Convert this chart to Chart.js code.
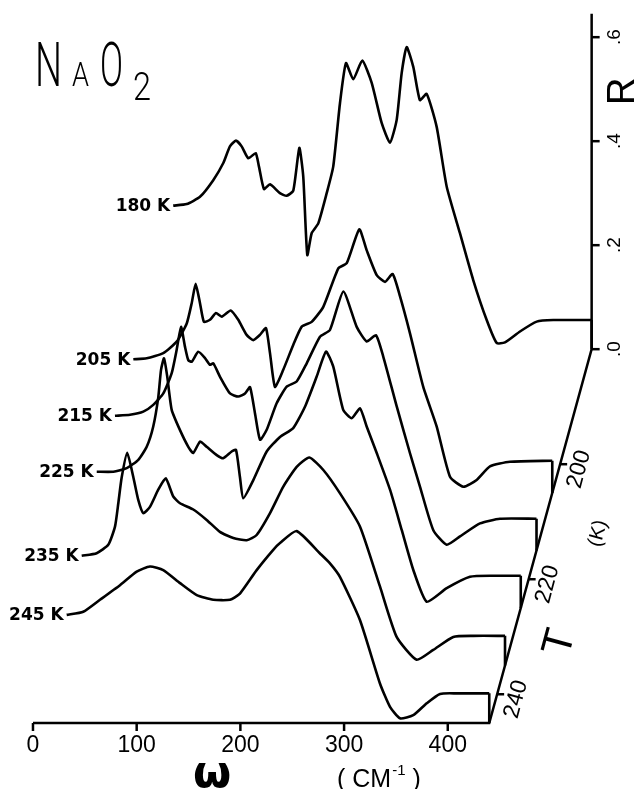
<!DOCTYPE html>
<html>
<head>
<meta charset="utf-8">
<script src="https://cdn.jsdelivr.net/npm/chart.js@4.4.1/dist/chart.umd.min.js"></script>
<style>
  html, body { margin: 0; padding: 0; background: #fff; }
  canvas { display: block; }
</style>
</head>
<body>
<canvas id="naO2Chart" width="639" height="789"></canvas>
<script>
// spectra, omega in cm-1, reflectance R
const omega180 = [36.5,49.5,62.3,75.1,84.8,91.2,97.0,102.5,108.9,116.0,119.2,124.0,129.8,139.4,145.9,152.3,158.1,161.9,165.8,170.0,176.4,184.5,190.8,197.3,203.1,210.1,218.8,227.9,237.5,245.5,252.0,256.8,261.6,268.0,274.4,280.9,290.5,300.2,313.0,325.8,338.8,348.4,356.4,370.9,387.0,403.0,440];
const r180 = [0.276,0.279,0.293,0.325,0.358,0.390,0.401,0.390,0.367,0.377,0.351,0.308,0.317,0.300,0.295,0.305,0.387,0.332,0.181,0.223,0.242,0.300,0.351,0.473,0.550,0.519,0.555,0.512,0.435,0.397,0.441,0.531,0.581,0.543,0.479,0.491,0.428,0.313,0.223,0.133,0.056,0.012,0.013,0.034,0.053,0.056,0.056];

const omega205 = [36.0,48.9,64.9,77.8,87.5,92.3,96.1,100.3,104.1,109.9,115.7,121.2,129.9,137.2,145.3,151.7,158.1,163.9,167.8,172.6,180.6,190.3,198.4,208.0,219.2,233.7,241.8,253.9,261.0,270.7,278.7,286.1,293.2,302.8,315.6,328.5,341.4,354.2,367.1,379.9,399.2,440];
const r205 = [0.257,0.259,0.269,0.291,0.326,0.365,0.402,0.365,0.329,0.333,0.346,0.339,0.351,0.333,0.304,0.294,0.304,0.317,0.269,0.204,0.237,0.285,0.320,0.329,0.358,0.432,0.442,0.507,0.467,0.419,0.406,0.421,0.378,0.307,0.204,0.128,0.031,0.012,0.025,0.051,0.060,0.062];

const omega215 = [33.5,48.0,60.8,70.4,80.1,88.2,93.0,97.2,101.0,104.2,107.5,113.8,120.3,125.1,128.3,134.8,144.4,152.4,158.9,163.7,168.5,173.4,179.8,189.4,199.1,208.7,218.4,231.2,240.8,253.7,266.6,276.2,285.2,292.2,305.2,318.0,327.6,340.5,353.4,366.2,385.5,404.8,440];
const r215 = [0.259,0.261,0.267,0.280,0.302,0.341,0.386,0.430,0.392,0.366,0.363,0.382,0.370,0.357,0.360,0.334,0.302,0.296,0.302,0.314,0.264,0.213,0.232,0.283,0.315,0.325,0.360,0.411,0.424,0.498,0.430,0.402,0.414,0.373,0.277,0.187,0.123,0.039,0.011,0.027,0.052,0.061,0.061];

const omega225 = [31.1,47.1,60.0,71.2,79.3,85.6,90.5,93.1,96.0,99.1,103.4,111.4,119.4,124.2,130.7,137.1,146.8,153.1,161.2,165.4,169.2,172.4,182.1,195.0,207.8,220.6,231.9,243.2,252.2,259.2,268.8,277.0,285.0,291.4,301.1,314.0,325.2,336.4,349.3,368.6,391.0,413.5,440];
const r225 = [0.262,0.262,0.269,0.285,0.310,0.349,0.406,0.458,0.480,0.445,0.381,0.342,0.310,0.298,0.320,0.310,0.294,0.288,0.301,0.304,0.252,0.211,0.246,0.301,0.329,0.346,0.387,0.445,0.493,0.464,0.381,0.365,0.384,0.349,0.298,0.227,0.150,0.073,0.012,0.038,0.060,0.062,0.062];

const omega235 = [31.8,46.2,57.4,63.9,67.1,70.3,75.7,81.5,86.4,91.2,97.6,105.6,112.8,120.1,126.6,139.4,152.3,165.1,178.0,190.9,200.5,213.4,226.2,239.1,251.3,264.8,280.9,300.2,319.4,335.5,354.8,370.8,390.1,409.4,440];
const r235 = [0.211,0.216,0.232,0.267,0.312,0.361,0.409,0.363,0.318,0.293,0.305,0.338,0.360,0.325,0.312,0.300,0.280,0.257,0.245,0.241,0.251,0.293,0.344,0.382,0.400,0.376,0.331,0.267,0.152,0.055,0.011,0.030,0.055,0.057,0.057];

const omega245 = [32.5,48.5,64.6,83.9,100.0,112.8,125.6,141.8,157.9,173.9,190.0,199.6,215.7,231.7,238.2,254.3,276.8,286.4,296.0,315.3,334.6,344.3,353.9,366.7,379.7,392.5,408.6,440];
const r245 = [0.208,0.214,0.237,0.265,0.291,0.301,0.294,0.269,0.246,0.237,0.237,0.249,0.294,0.333,0.346,0.369,0.326,0.307,0.281,0.198,0.076,0.031,0.009,0.015,0.038,0.056,0.057,0.057];

const temps = [180, 205, 215, 225, 235, 245];
const omegas = [omega180, omega205, omega215, omega225, omega235, omega245];
const refl = [r180, r205, r215, r225, r235, r245];

const omegaTicks = [0, 100, 200, 300, 400];
const rTicks = [0, 0.2, 0.4, 0.6];
const rTickLabels = [".0", ".2", ".4", ".6"];
const tTicks = [200, 220, 240];

// waterfall geometry
const OMEGA_END = 440;
const T_BACK = 180;
const T_FRONT = 245;
const SHIFT_X = 1.519;   // cm-1 per K
const SHIFT_Y = 0.01106; // R per K
const R_TOP = 0.645;

const proj = (w, r, T) => ({
  x: w + SHIFT_X * (T_FRONT - T),
  y: r + SHIFT_Y * (T_FRONT - T),
});

const datasets = [];
temps.forEach((T, k) => {
  const w = omegas[k], r = refl[k];
  datasets.push({
    label: T + " K",
    data: w.map((v, i) => proj(v, r[i], T)),
    borderColor: "#000",
    borderWidth: 2.6,
    pointRadius: 0,
    showLine: true,
    tension: 0.18,
  });
  // drop to the baseline at the end of the range
  datasets.push({
    label: "",
    data: [proj(OMEGA_END, r[r.length - 1], T), proj(OMEGA_END, 0, T)],
    borderColor: "#000",
    borderWidth: 2.6,
    pointRadius: 0,
    showLine: true,
    tension: 0,
  });
});

function rotText(ctx, text, x, y, angle, font) {
  ctx.save();
  ctx.translate(x, y);
  ctx.rotate(angle);
  ctx.font = font;
  ctx.textAlign = "center";
  ctx.textBaseline = "middle";
  ctx.fillText(text, 0, 0);
  ctx.restore();
}

const axesPlugin = {
  id: "waterfallAxes",
  afterDatasetsDraw: (chart) => {
    const ctx = chart.ctx;
    const xs = chart.scales.x, ys = chart.scales.y;
    const px = (w, r, T) => {
      const p = proj(w, r, T);
      return [xs.getPixelForValue(p.x), ys.getPixelForValue(p.y)];
    };
    ctx.save();
    ctx.strokeStyle = "#000";
    ctx.fillStyle = "#000";
    ctx.lineWidth = 2.5;
    ctx.lineCap = "butt";

    // omega axis (front), T axis, R axis (back)
    let a = px(0, 0, T_FRONT), b = px(OMEGA_END, 0, T_FRONT), c = px(OMEGA_END, 0, T_BACK), d = px(OMEGA_END, R_TOP, T_BACK);
    ctx.beginPath();
    ctx.moveTo(a[0], a[1]);
    ctx.lineTo(b[0], b[1]);
    ctx.lineTo(c[0], c[1]);
    ctx.lineTo(d[0], d[1]);
    ctx.stroke();

    ctx.font = "23px 'Liberation Sans', Arial, sans-serif";
    ctx.textAlign = "center";
    ctx.textBaseline = "middle";
    omegaTicks.forEach((t) => {
      const p = px(t, 0, T_FRONT);
      ctx.beginPath();
      ctx.moveTo(p[0], p[1]);
      ctx.lineTo(p[0], p[1] + 8);
      ctx.stroke();
      ctx.fillText(String(t), p[0], p[1] + 23);
    });

    const tilt = -75 * Math.PI / 180;
    tTicks.forEach((t) => {
      const p = px(OMEGA_END, 0, t);
      ctx.beginPath();
      ctx.moveTo(p[0], p[1]);
      ctx.lineTo(p[0] + 7, p[1]);
      ctx.stroke();
      rotText(ctx, String(t), p[0] + 19, p[1] + 5, tilt, "23px 'Liberation Sans', Arial, sans-serif");
    });
    let q = px(OMEGA_END, 0, 211.5);
    rotText(ctx, "(K)", q[0] + 56, q[1] + 3, tilt, "20px 'Liberation Sans', Arial, sans-serif");
    q = px(OMEGA_END, 0, 231);
    rotText(ctx, "T", q[0] + 49, q[1], tilt, "42px 'Liberation Sans', Arial, sans-serif");

    rTicks.forEach((t, i) => {
      const p = px(OMEGA_END, t, T_BACK);
      ctx.beginPath();
      ctx.moveTo(p[0], p[1]);
      ctx.lineTo(p[0] + 8, p[1]);
      ctx.stroke();
      rotText(ctx, rTickLabels[i], p[0] + 23, p[1], -Math.PI / 2, "19px 'Liberation Sans', Arial, sans-serif");
    });
    q = px(OMEGA_END, 0.496, T_BACK);
    rotText(ctx, "R", q[0] + 32, q[1], -Math.PI / 2, "38px 'Liberation Sans', Arial, sans-serif");

    // curve labels
    ctx.font = "bold 17px 'DejaVu Sans', sans-serif";
    ctx.textAlign = "right";
    ctx.textBaseline = "middle";
    chart.data.datasets.forEach((ds) => {
      if (!ds.label) return;
      const pt = ds.data[0];
      ctx.fillText(ds.label, xs.getPixelForValue(pt.x) - 3, ys.getPixelForValue(pt.y) + 1);
    });

    // axis titles
    ctx.textAlign = "center";
    ctx.textBaseline = "alphabetic";
    ctx.font = "bold 44px 'DejaVu Sans', sans-serif";
    ctx.fillText("ω", 212, 787);
    ctx.textAlign = "left";
    ctx.font = "25px 'Liberation Sans', Arial, sans-serif";
    let x0 = 337;
    ctx.fillText("( CM", x0, 787);
    x0 += ctx.measureText("( CM").width + 1;
    ctx.font = "15px 'Liberation Sans', Arial, sans-serif";
    ctx.fillText("-1", x0, 775);
    x0 += ctx.measureText("-1").width;
    ctx.font = "25px 'Liberation Sans', Arial, sans-serif";
    ctx.fillText(" )", x0, 787);

    // compound name
    ctx.font = "300 62px Roboto, 'Liberation Sans', sans-serif";
    ctx.fillText("N", 35, 86, 27);
    ctx.font = "300 34px Roboto, 'Liberation Sans', sans-serif";
    ctx.fillText("A", 72, 86, 17);
    ctx.font = "300 62px Roboto, 'Liberation Sans', sans-serif";
    ctx.fillText("O", 100, 86, 23);
    ctx.font = "300 39px Roboto, 'Liberation Sans', sans-serif";
    ctx.fillText("2", 133, 100, 18);
    ctx.restore();
  },
};

const chart = new Chart(document.getElementById("naO2Chart"), {
  type: "scatter",
  data: { datasets: datasets },
  options: {
    responsive: false,
    animation: false,
    events: [],
    layout: { padding: 0 },
    plugins: {
      legend: { display: false },
      tooltip: { enabled: false },
    },
    scales: {
      x: { type: "linear", display: false, min: -31.8, max: 584.4 },
      y: { type: "linear", display: false, min: -0.1269, max: 1.3904 },
    },
  },
  plugins: [axesPlugin],
});
</script>
</body>
</html>
